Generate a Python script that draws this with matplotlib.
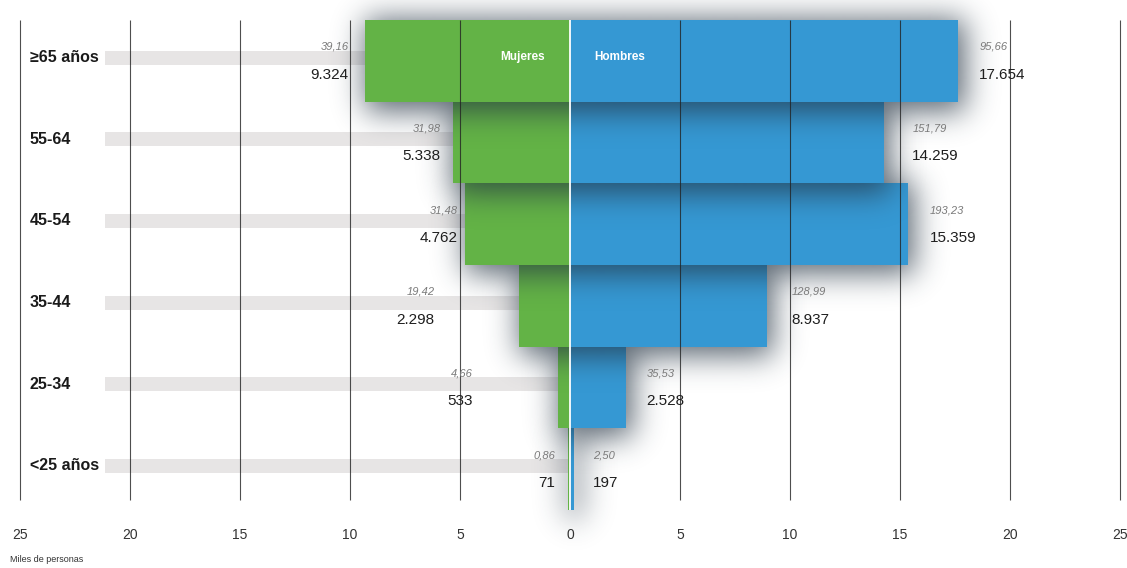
import numpy as np
import matplotlib
matplotlib.use('Agg')
import matplotlib.pyplot as plt

# ---------------- data ----------------
categories = ['≥65 años', '55-64', '45-54', '35-44', '25-34', '<25 años']
mujeres = [9324, 5338, 4762, 2298, 533, 71]
hombres = [17654, 14259, 15359, 8937, 2528, 197]
mujeres_pct = ['39,16', '31,98', '31,48', '19,42', '4,66', '0,86']
hombres_pct = ['95,66', '151,79', '193,23', '128,99', '35,53', '2,50']
tick_values = [-25, -20, -15, -10, -5, 0, 5, 10, 15, 20, 25]
tick_labels = ['25', '20', '15', '10', '5', '0', '5', '10', '15', '20', '25']
series_names = ['Mujeres', 'Hombres']
unit_label = 'Miles de personas'

# ---------------- layout / style ----------------
mujeres_lbl_gap = [0.75, 0.55, 0.35, 3.85, 3.9, 0.6]
hombres_lbl_gap = [0.95, 1.3, 1.0, 1.14, 0.95, 0.85]
GREEN = '#63b346'
BLUE = '#3598d3'
BAND = '#e7e5e5'
NARROW = ['Liberation Sans Narrow', 'Liberation Sans', 'DejaVu Sans']

W, H = 1127, 568
fig = plt.figure(figsize=(W / 100, H / 100), dpi=100)
PXU = 22.0
X0 = 570.0
XL = (-25.1, 25.1)
left = (X0 + XL[0] * PXU) / W
width = (XL[1] - XL[0]) * PXU / W
ax = fig.add_axes([left, 58 / H, width, 490 / H])
ax.axis('off')

n = len(categories)
ypos = np.arange(n)[::-1].astype(float)
ROWPX = 490 / 6.0

for y in ypos:
    ax.barh(y + 0.04, 21.15, left=-21.15, height=0.17, color=BAND, zorder=1, lw=0)

YE = (-1.0, 6.0)
nx = int((XL[1] - XL[0]) * PXU)
ny = int((YE[1] - YE[0]) * ROWPX)
xs = np.linspace(XL[0], XL[1], nx)
ys = np.linspace(YE[1], YE[0], ny)
X, Y = np.meshgrid(xs, ys)


def gblur(a, sigma):
    r = int(3 * sigma)
    k = np.exp(-0.5 * (np.arange(-r, r + 1) / sigma) ** 2)
    k /= k.sum()
    a = np.apply_along_axis(lambda m: np.convolve(m, k, mode='same'), 0, a)
    a = np.apply_along_axis(lambda m: np.convolve(m, k, mode='same'), 1, a)
    return a


dx = 6 / PXU
dy = 9 / ROWPX
for k, i in enumerate(range(n - 1, -1, -1)):
    y = ypos[i]
    m = mujeres[i] / 1000.0
    h = hombres[i] / 1000.0
    mask = ((X >= -m + dx - 0.3) & (X <= h + dx) &
            (Y <= y + 0.5 - dy + 0.12) & (Y >= y - 0.5 - dy)).astype(float)
    b = gblur(mask, 15)
    img = np.zeros((ny, nx, 4))
    img[..., 0] = 0.14
    img[..., 1] = 0.2
    img[..., 2] = 0.26
    img[..., 3] = np.clip(b * 0.75, 0, 1)
    ax.imshow(img, extent=(XL[0], XL[1], YE[0], YE[1]), aspect='auto',
              interpolation='bilinear', zorder=2 + 2 * k, clip_on=False)
    ax.barh(y, -m, height=1.0, color=GREEN, lw=0, zorder=3 + 2 * k)
    ax.barh(y, h, height=1.0, color=BLUE, lw=0, zorder=3 + 2 * k)

ax.set_xlim(XL)
ax.set_ylim(-0.5, 5.5)

ax.vlines(0, -0.5, 5.5, color='white', lw=1.3, zorder=30)

for t in tick_values:
    if t == 0:
        continue
    ax.vlines(t, -0.38, 5.5, color='#222222', lw=0.8, alpha=0.8, zorder=31, clip_on=False)

for t, lab in zip(tick_values, tick_labels):
    ax.text(t, -0.5 - 25 / ROWPX, lab, ha='center', va='center', fontsize=10,
            family=NARROW, color='#333333', clip_on=False)

fig.text(10 / W, 1 - 560 / H, unit_label, ha='left', va='center', fontsize=6.5,
         family=NARROW, color='#333333')


def fmt(v):
    return f'{v:,}'.replace(',', '.')


for i, y in enumerate(ypos):
    ax.text(-24.55, y + 0.04, categories[i], ha='left', va='center', fontsize=11.5,
            fontweight='bold', family=NARROW, color='#1a1a1a', zorder=40)
    m = mujeres[i] / 1000.0
    h = hombres[i] / 1000.0
    xm = -m - mujeres_lbl_gap[i]
    xh = h + hombres_lbl_gap[i]
    ax.text(xm, y - 0.17, fmt(mujeres[i]), ha='right', va='center', fontsize=11,
            family=NARROW, color='#1e1e1e', zorder=40)
    ax.text(xm, y + 0.17, mujeres_pct[i], ha='right', va='center', fontsize=8,
            style='italic', family=NARROW, color='#7a7a7a', zorder=40)
    ax.text(xh, y - 0.17, fmt(hombres[i]), ha='left', va='center', fontsize=11,
            family=NARROW, color='#1e1e1e', zorder=40)
    ax.text(xh, y + 0.17, hombres_pct[i], ha='left', va='center', fontsize=8,
            style='italic', family=NARROW, color='#7a7a7a', zorder=40)

ax.text(-2.14, 5.5 - 37 / ROWPX, series_names[0], ha='center', va='center',
        fontsize=8.5, fontweight='bold', family=NARROW, color='white', zorder=40)
ax.text(2.27, 5.5 - 37 / ROWPX, series_names[1], ha='center', va='center',
        fontsize=8.5, fontweight='bold', family=NARROW, color='white', zorder=40)

fig.savefig('out.png', dpi=100)
